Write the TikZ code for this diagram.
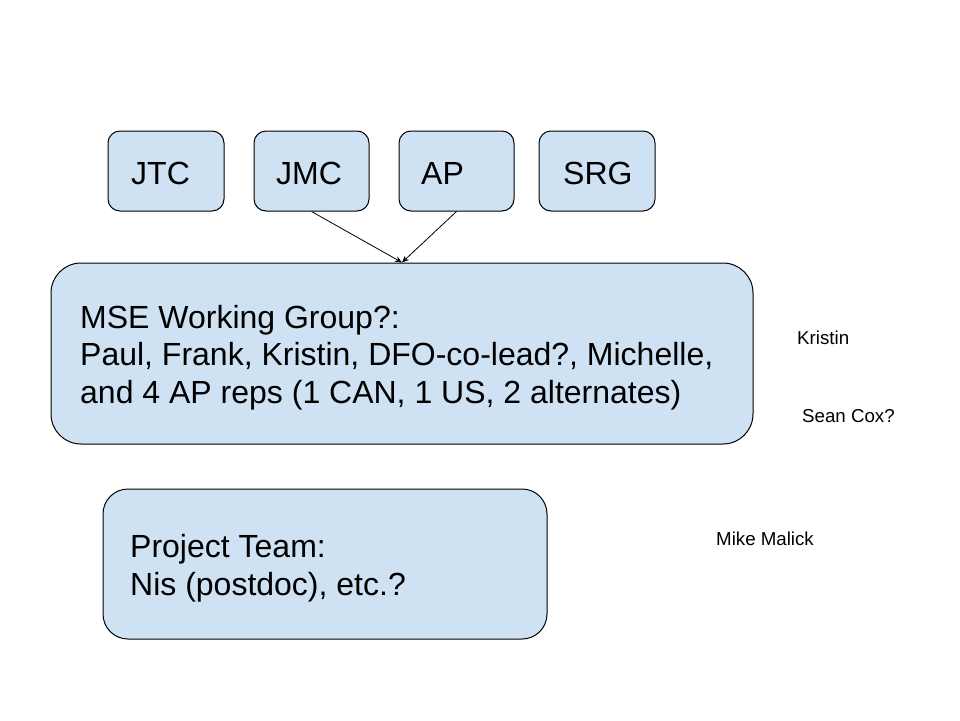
\documentclass[tikz,border=0pt]{standalone}
\usepackage{fontspec}
\setmainfont{Liberation Sans}
\usetikzlibrary{arrows.meta}
\definecolor{boxblue}{HTML}{CFE2F3}
\begin{document}
\begin{tikzpicture}[x=1pt,y=-1pt,
  box/.style={draw=black,line width=1pt,fill=boxblue,inner sep=0pt},
  big/.style={font=\fontsize{32}{37.5}\selectfont,inner sep=0pt,align=left,anchor=base west},
  small/.style={font=\fontsize{18.7}{22}\selectfont,inner sep=0pt,anchor=base west},
  link/.style={line width=0.8pt,-{Stealth[length=7pt,width=6pt]}}]
\useasboundingbox[fill=white] (0,0) rectangle (960,720);
% top boxes
\node[box,rounded corners=12pt,minimum width=116pt,minimum height=80pt] (jtc) at (166,171) {};
\node[big] (jtctext) at (131,184) {JTC};
\node[box,rounded corners=12pt,minimum width=115pt,minimum height=80pt] (jmc) at (311.5,171) {};
\node[big] (jmctext) at (276,184) {JMC};
\node[box,rounded corners=12pt,minimum width=115pt,minimum height=80pt] (ap) at (456.5,171) {};
\node[big] (aptext) at (421,184) {AP};
\node[box,rounded corners=12pt,minimum width=116pt,minimum height=80pt] (srg) at (597,171) {};
\node[big] (srgtext) at (563,184) {SRG};
% MSE working group
\node[box,rounded corners=30pt,minimum width=702pt,minimum height=181pt] (mse) at (402,353.5) {};
\node[big] (msetext) at (80,403) {MSE Working Group?:\\Paul, Frank, Kristin, DFO-co-lead?, Michelle,\\and 4 AP reps (1 CAN, 1 US, 2 alternates)};
% project team
\node[box,rounded corners=25pt,minimum width=444pt,minimum height=150pt] (proj) at (325,564) {};
\node[big] (projtext) at (130,595) {Project Team:\\Nis (postdoc), etc.?};
% side labels
\node[small] (kristin) at (797,344) {Kristin};
\node[small] (sean) at (802,422) {Sean Cox?};
\node[small] (mike) at (716,545) {Mike Malick};
% arrows
\draw[link] (jmc.south) -- (mse.north);
\draw[link] (ap.south) -- (mse.north);
\end{tikzpicture}
\end{document}
